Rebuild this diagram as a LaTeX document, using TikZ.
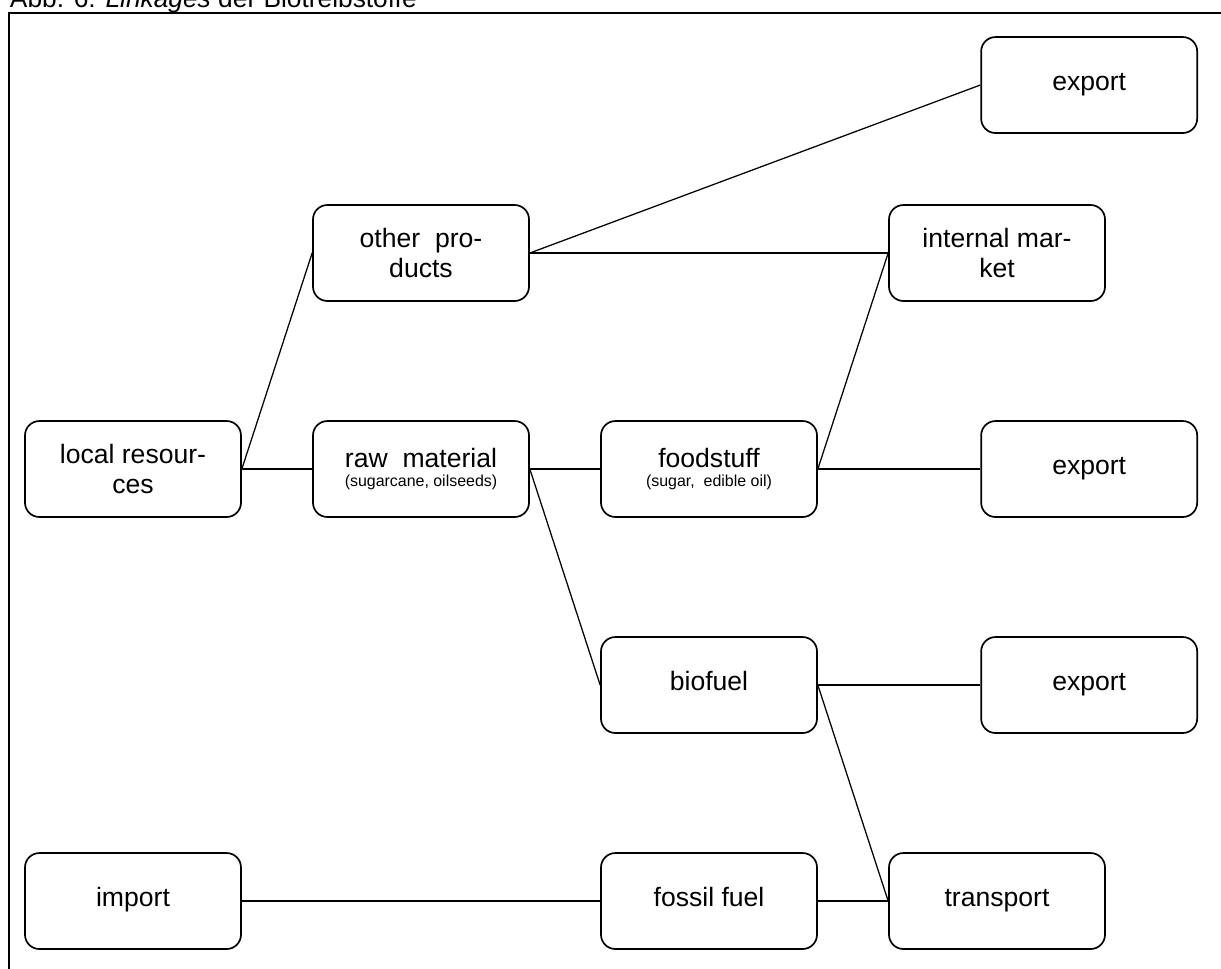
\documentclass[tikz,border=0pt]{standalone}
\usepackage{fontspec}
\setmainfont{Liberation Sans}
\usepackage{tikz}

\begin{document}
\begin{tikzpicture}[
		every node/.style={rectangle, draw, rounded corners=0.2cm, line width=0.67pt, minimum width=3cm, minimum height=1.333cm, inner sep=0pt, align=center, font=\fontsize{10.5}{11.9}\selectfont},
		one/.style={text height=7.6pt, text depth=2.9pt},
		link/.style={line width=0.5pt}
	]
  \useasboundingbox (-1.847cm, -6.931cm) rectangle (15.111cm, 6.514cm);
  \node (title) [draw=none, minimum width=0pt, minimum height=0pt, anchor=base west, font=\fontsize{10.4}{12}\selectfont] at (-1.72cm, 6.41cm) {Abb. 6: \textit{Linkages} der Biotreibstoffe};
  \draw [line width=0.8pt] (-1.72cm, -7.5cm) rectangle (15.5cm, 6.34cm);
  \node (loc_res) at (0cm, 0cm) {local resour-\\ces};
  \node (oth_prod) at (4cm, 3cm) {other\ \ pro-\\ducts};
  \node (raw_mat) at (4cm, 0cm) {raw\ \ material\\[-4pt]{\fontsize{6.3}{7.5}\selectfont (sugarcane, oilseeds)}};
  \node (food) at (8cm, 0cm) {foodstuff\\[-4pt]{\fontsize{6.3}{7.5}\selectfont (sugar,\ \ edible oil)}};
  \node (bio) [one] at (8cm, -3cm) {biofuel};
  \node (fossil) [one] at (8cm, -6cm) {fossil fuel};
  \node (import) [one] at (0cm, -6cm) {import};
  \node (int_mkt) at (12cm, 3cm) {internal mar-\\ket};
  \node (transp) [one] at (12cm, -6cm) {transport};
  \node (exp_1) [one] at (13.28cm, 5.333cm) {export};
  \node (exp_2) [one] at (13.28cm, 0cm) {export};
  \node (exp_3) [one] at (13.28cm, -3cm) {export};
  \draw [link] (loc_res.east) edge (oth_prod.west);
  \draw [link] (loc_res.east) edge (raw_mat.west);
  \draw [link] (oth_prod.east) edge (exp_1.west);
  \draw [link] (oth_prod.east) edge (int_mkt.west);
  \draw [link] (raw_mat.east) edge (food.west);
  \draw [link] (raw_mat.east) edge (bio.west);
  \draw [link] (food.east) edge (int_mkt.west);
  \draw [link] (food.east) edge (exp_2.west);
  \draw [link] (bio.east) edge (exp_3.west);
  \draw [link] (bio.east) edge (transp.west);
  \draw [link] (import.east) edge (fossil.west);
  \draw [link] (fossil.east) edge (transp.west);
\end{tikzpicture}
\end{document}
